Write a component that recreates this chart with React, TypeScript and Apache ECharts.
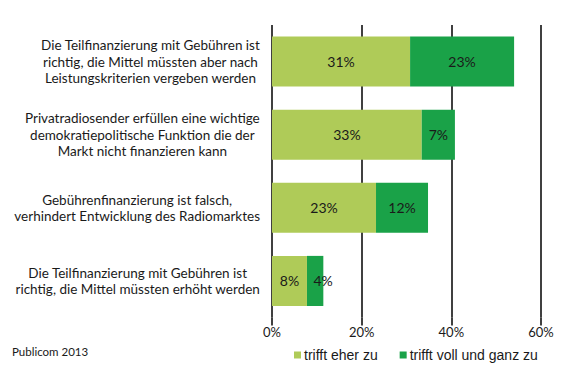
import React, { useEffect, useRef } from "react";
import * as echarts from "echarts";

const categories = [
  "Die Teilfinanzierung mit Gebühren ist\nrichtig, die Mittel müssten aber nach\nLeistungskriterien vergeben werden",
  "Privatradiosender erfüllen eine wichtige\ndemokratiepolitische Funktion die der\nMarkt nicht finanzieren kann",
  "Gebührenfinanzierung ist falsch,\nverhindert Entwicklung des Radiomarktes",
  "Die Teilfinanzierung mit Gebühren ist\nrichtig, die Mittel müssten erhöht werden",
];
const seriesNames = ["trifft eher zu", "trifft voll und ganz zu"];
const eherZu = [30.8, 33.4, 23.2, 7.8];
const vollZu = [23.2, 7.4, 11.6, 3.65];
const xTicks = { min: 0, max: 60, interval: 20 };
const source = "Publicom 2013";

const LIGHT = "#AFCB58";
const DARK = "#1AA248";
const FONT = "Lato, 'Noto Sans', sans-serif";

export default function App() {
  const ref = useRef<HTMLDivElement>(null);
  useEffect(() => {
    if (!ref.current) return;
    const chart = echarts.init(ref.current, undefined, { renderer: "svg" });
    const valueLabel = {
      show: true,
      position: "inside" as const,
      color: "#1a1a1a",
      fontFamily: FONT,
      fontSize: 14,
      formatter: (p: any) => Math.round(p.value) + "%",
    };
    chart.setOption({
      animation: false,
      backgroundColor: "#fff",
      grid: { left: 272, right: 27, top: 25, bottom: 60.5, containLabel: false },
      xAxis: {
        type: "value",
        min: xTicks.min,
        max: xTicks.max,
        interval: xTicks.interval,
        axisLine: { show: false },
        axisTick: { show: true, length: 8, lineStyle: { color: "#000", width: 1.5 } },
        splitLine: { show: true, lineStyle: { color: "#000", width: 1.5 } },
        axisLabel: {
          formatter: "{value}%",
          margin: 8,
          color: "#1a1a1a",
          fontFamily: FONT,
          fontSize: 13,
        },
      },
      yAxis: {
        type: "category",
        inverse: true,
        data: categories,
        axisLine: { show: false },
        axisTick: { show: false },
        axisLabel: {
          margin: 12,
          formatter: (v: string) => "{c|" + v + "}",
          rich: {
            c: {
              align: "center",
              fontFamily: FONT,
              fontSize: 13.5,
              lineHeight: 16.5,
              color: "#1a1a1a",
            },
          },
        },
      },
      legend: {
        left: 289,
        top: 343,
        itemWidth: 7,
        itemHeight: 7,
        itemGap: 22,
        icon: "rect",
        textStyle: {
          fontFamily: "'Liberation Sans', Arial, sans-serif",
          fontSize: 14,
          color: "#1a1a1a",
          padding: [0, 0, 0, -2],
        },
        data: seriesNames,
      },
      graphic: [
        {
          type: "text",
          left: 12,
          top: 345,
          style: {
            text: source,
            fontFamily: FONT,
            fontSize: 11.5,
            fill: "#1a1a1a",
          },
        },
      ],
      series: [
        {
          name: seriesNames[0],
          type: "bar",
          stack: "total",
          barCategoryGap: "31.5%",
          itemStyle: { color: LIGHT },
          label: valueLabel,
          data: eherZu,
        },
        {
          name: seriesNames[1],
          type: "bar",
          stack: "total",
          barCategoryGap: "31.5%",
          itemStyle: { color: DARK },
          label: valueLabel,
          data: vollZu.map((v, i) =>
            i === 3 ? { value: v, label: { offset: [8, 0] } } : v
          ),
        },
      ],
    });
    return () => chart.dispose();
  }, []);
  return <div ref={ref} style={{ width: 568, height: 378, margin: -8 }} />;
}
